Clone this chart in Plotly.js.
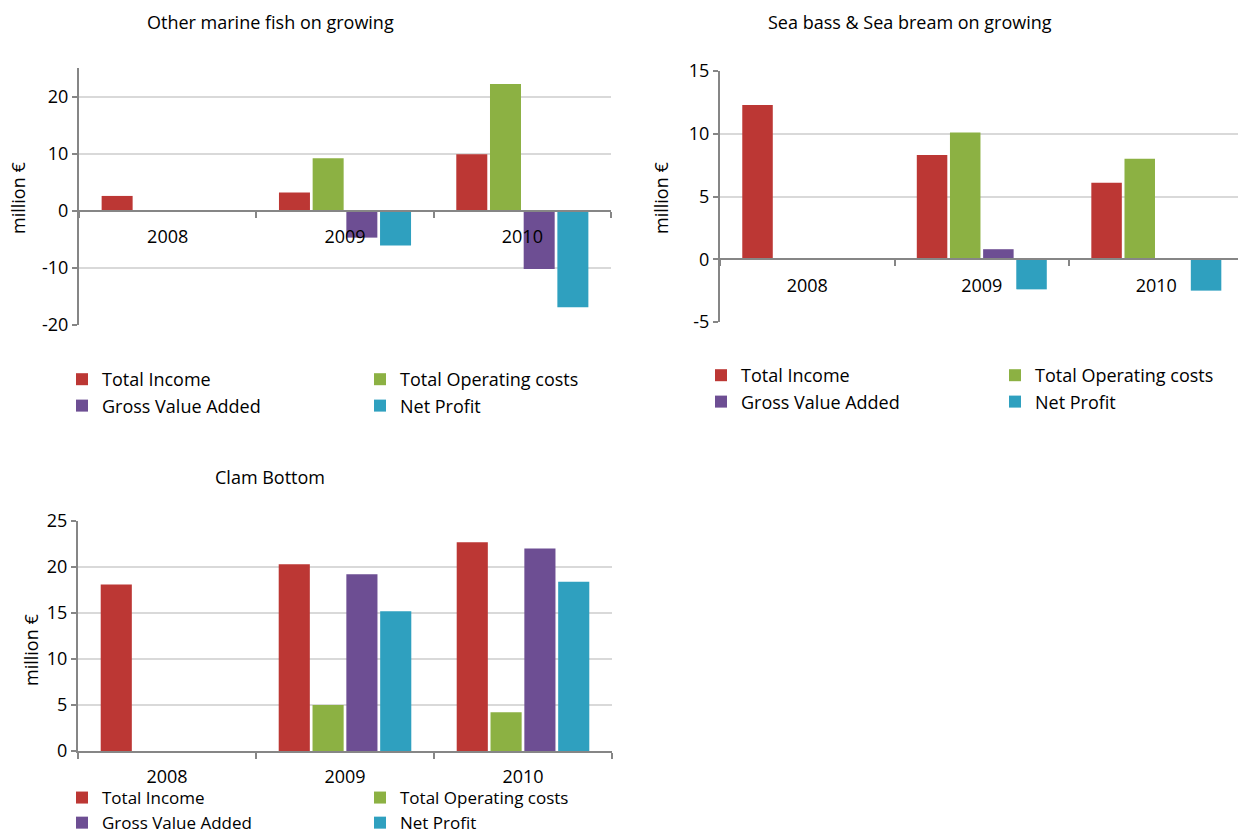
<!DOCTYPE html>
<html>
<head>
<meta charset="utf-8">
<script src="https://cdn.plot.ly/plotly-3.0.1.min.js"></script>
<style>html,body{margin:0;padding:0;background:#fff;}#chart{width:1238px;height:833px;}</style>
</head>
<body>
<div id="chart"></div>
<script>
// ---- data ----
const categories = ['2008', '2009', '2010'];
const seriesNames = ['Total Income', 'Total Operating costs', 'Gross Value Added', 'Net Profit'];
const chartTitles = ['Other marine fish on growing', 'Sea bass & Sea bream on growing', 'Clam Bottom'];
const yAxisLabel = 'million €';

const marineTickValues = [-20, -10, 0, 10, 20];
const marineTickLabels = ['-20', '-10', '0', '10', '20'];
const marineIncome = [2.6, 3.2, 9.9];
const marineOperatingCosts = [null, 9.2, 22.2];
const marineGrossValueAdded = [null, -4.7, -10.2];
const marineNetProfit = [null, -6.1, -16.9];

const seabassTickValues = [-5, 0, 5, 10, 15];
const seabassTickLabels = ['-5', '0', '5', '10', '15'];
const seabassIncome = [12.3, 8.3, 6.1];
const seabassOperatingCosts = [null, 10.1, 8.0];
const seabassGrossValueAdded = [null, 0.8, null];
const seabassNetProfit = [null, -2.4, -2.5];

const clamTickValues = [0, 5, 10, 15, 20, 25];
const clamTickLabels = ['0', '5', '10', '15', '20', '25'];
const clamIncome = [18.1, 20.3, 22.7];
const clamOperatingCosts = [null, 5.0, 4.2];
const clamGrossValueAdded = [null, 19.2, 22.0];
const clamNetProfit = [null, 15.2, 18.4];

// ---- styles ----
const colors = ['#bc3734', '#8cb143', '#6d4e93', '#2fa0bf'];
const FONT = '"Open Sans", "Noto Sans", sans-serif';
const FS = 18;
const W = 1238, H = 833;
const axisGray = '#868686';
const gridGray = '#d9d9d9';

const panels = [
  {series: [marineIncome, marineOperatingCosts, marineGrossValueAdded, marineNetProfit],
   tickvals: marineTickValues, ticktext: marineTickLabels,
   xpx: [79, 611], ypx: [68, 325], yrange: [-20, 25], xrange: [-0.5, 2.5],
   zeroAxis: true, labelOffset: 10, legends: [62, 360], legendTop: 361, legendFS: 18,
   titleX: 270, titleY: 22, yTitleX: 18, yTitleY: 198},
  {series: [seabassIncome, seabassOperatingCosts, seabassGrossValueAdded, seabassNetProfit],
   tickvals: seabassTickValues, ticktext: seabassTickLabels,
   xpx: [720, 1238], ypx: [71, 322], yrange: [-5, 15], xrange: [-0.5, 2.468],
   zeroAxis: true, labelOffset: 10, legends: [701, 995], legendTop: 357, legendFS: 18,
   titleX: 910, titleY: 22, yTitleX: 661, yTitleY: 198},
  {series: [clamIncome, clamOperatingCosts, clamGrossValueAdded, clamNetProfit],
   tickvals: clamTickValues, ticktext: clamTickLabels,
   xpx: [78, 612], ypx: [521, 751], yrange: [0, 25], xrange: [-0.5, 2.5],
   zeroAxis: false, labelOffset: 8, legends: [62, 360], legendTop: 780, legendFS: 17,
   titleX: 270, titleY: 477, yTitleX: 31, yTitleY: 650}
];

const traces = [];
const layout = {
  width: W, height: H,
  margin: {l: 0, r: 0, t: 0, b: 0, autoexpand: false},
  paper_bgcolor: '#ffffff', plot_bgcolor: 'rgba(0,0,0,0)',
  font: {family: FONT, size: FS, color: '#000000'},
  barmode: 'group', bargap: 0.24, bargroupgap: 0.08,
  annotations: [],
  showlegend: true
};

panels.forEach((p, i) => {
  const n = i === 0 ? '' : String(i + 1);
  const xa = 'x' + n, ya = 'y' + n;
  const yDom = [1 - p.ypx[1] / H, 1 - p.ypx[0] / H];
  const xDom = [p.xpx[0] / W, Math.min(1, p.xpx[1] / W)];
  const legL = 'legend' + (i === 0 ? '' : String(2 * i + 1));
  const legR = 'legend' + String(2 * i + 2);
  p.series.forEach((vals, k) => {
    traces.push({
      type: 'bar', x: categories, y: vals, name: seriesNames[k],
      xaxis: xa, yaxis: ya,
      legend: (k % 2 === 0) ? legL : legR,
      marker: {color: colors[k], line: {width: 0}},
      hoverinfo: 'x+y+name'
    });
  });
  const zeroPos = yDom[0] + (0 - p.yrange[0]) / (p.yrange[1] - p.yrange[0]) * (yDom[1] - yDom[0]);
  const xaxis = {
    domain: xDom, type: 'category', range: p.xrange,
    anchor: p.zeroAxis ? 'free' : ya,
    showline: true, linecolor: axisGray, linewidth: 2,
    ticks: 'outside', tickson: 'boundaries', ticklen: 6, tickcolor: axisGray, tickwidth: 2,
    ticklabelstandoff: p.labelOffset,
    showgrid: false, zeroline: false, fixedrange: true, automargin: false, tickangle: 0,
    tickfont: {family: FONT, size: FS, color: '#000'}
  };
  if (p.zeroAxis) xaxis.position = zeroPos;
  layout['xaxis' + n] = xaxis;
  layout['yaxis' + n] = {
    domain: yDom, range: p.yrange, tickmode: 'array', tickvals: p.tickvals, ticktext: p.ticktext,
    anchor: xa, automargin: false,
    showline: true, linecolor: axisGray, linewidth: 2,
    ticks: 'outside', ticklen: 5, tickcolor: axisGray, tickwidth: 2,
    showgrid: true, gridcolor: gridGray, gridwidth: 2, zeroline: false,
    fixedrange: true,
    tickfont: {family: FONT, size: FS, color: '#000'}
  };
  const legCommon = {
    xref: 'paper', yref: 'paper', xanchor: 'left', yanchor: 'top',
    orientation: 'v', bgcolor: 'rgba(0,0,0,0)', borderwidth: 0,
    itemclick: false, itemdoubleclick: false
  };
  const legFont = {family: FONT, size: p.legendFS, color: '#000'};
  layout[legL] = Object.assign({}, legCommon, {font: legFont, x: p.legends[0] / W, y: 1 - p.legendTop / H});
  layout[legR] = Object.assign({}, legCommon, {font: legFont, x: p.legends[1] / W, y: 1 - p.legendTop / H});
  layout.annotations.push({
    xref: 'paper', yref: 'paper', x: p.titleX / W, y: 1 - p.titleY / H,
    xanchor: 'center', yanchor: 'middle', showarrow: false,
    text: chartTitles[i], font: {family: FONT, size: FS, color: '#000'}
  });
  layout.annotations.push({
    xref: 'paper', yref: 'paper', x: p.yTitleX / W, y: 1 - p.yTitleY / H,
    xanchor: 'center', yanchor: 'middle', showarrow: false, textangle: -90,
    text: yAxisLabel, font: {family: FONT, size: FS, color: '#000'}
  });
});

Plotly.newPlot('chart', traces, layout, {displayModeBar: false});
</script>
</body>
</html>
